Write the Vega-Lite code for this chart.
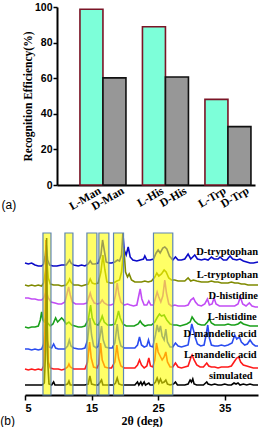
{
"$schema": "https://vega.github.io/schema/vega-lite/v6.json",
"padding": {"left": 0, "top": 2, "right": 0, "bottom": 0},
"spacing": 16,
"config": {"view": {"stroke": null}, "axis": {"domainColor": "#000", "tickColor": "#000", "labelColor": "#000", "titleColor": "#000", "grid": false}},
"datasets": {
"bars": [
{"group": "Man", "kind": "L", "name": "L-Man", "value": 98.7},
{"group": "Man", "kind": "D", "name": "D-Man", "value": 60.2},
{"group": "His", "kind": "L", "name": "L-His", "value": 88.9},
{"group": "His", "kind": "D", "name": "D-His", "value": 60.7},
{"group": "Trp", "kind": "L", "name": "L-Trp", "value": 48.1},
{"group": "Trp", "kind": "D", "name": "D-Trp", "value": 32.8}
],
"boxes": [
{"a": 7.7, "b": 8.9}, {"a": 11.0, "b": 12.2}, {"a": 14.3, "b": 15.8}, {"a": 16.1, "b": 17.6}, {"a": 18.3, "b": 19.8}, {"a": 24.3, "b": 27.2}
],
"names": [
{"name": "D-tryptophan", "lx": 40, "ly": 138},
{"name": "L-tryptophan", "lx": 40, "ly": 115},
{"name": "D-histidine", "lx": 40, "ly": 94},
{"name": "L-histidine", "lx": 39.8, "ly": 73},
{"name": "D-mandelic acid", "lx": 39.8, "ly": 56},
{"name": "L-mandelic acid", "lx": 39.8, "ly": 35},
{"name": "simulated", "lx": 39.2, "ly": 14}
],
"xrd": [
{"s":"Dt","x":5,"y":127},{"s":"Dt","x":5.5,"y":126},{"s":"Dt","x":6,"y":127},{"s":"Dt","x":6.5,"y":125},{"s":"Dt","x":7,"y":124},{"s":"Dt","x":7.5,"y":124},{"s":"Dt","x":7.8,"y":126},{"s":"Dt","x":8.0,"y":133},{"s":"Dt","x":8.2,"y":145},{"s":"Dt","x":8.4,"y":130},{"s":"Dt","x":8.7,"y":125},{"s":"Dt","x":9.2,"y":124},{"s":"Dt","x":9.8,"y":124},{"s":"Dt","x":10.5,"y":125},{"s":"Dt","x":11.2,"y":125},{"s":"Dt","x":11.5,"y":128},{"s":"Dt","x":11.7,"y":130},{"s":"Dt","x":11.9,"y":127},{"s":"Dt","x":12.3,"y":125},{"s":"Dt","x":13,"y":124},{"s":"Dt","x":13.5,"y":125},{"s":"Dt","x":14,"y":124},{"s":"Dt","x":14.5,"y":126},{"s":"Dt","x":14.8,"y":129},{"s":"Dt","x":15.1,"y":126},{"s":"Dt","x":15.5,"y":126},{"s":"Dt","x":16,"y":127},{"s":"Dt","x":16.4,"y":135},{"s":"Dt","x":16.65,"y":150},{"s":"Dt","x":16.9,"y":140},{"s":"Dt","x":17.2,"y":128},{"s":"Dt","x":17.6,"y":127},{"s":"Dt","x":18,"y":127},{"s":"Dt","x":18.5,"y":128},{"s":"Dt","x":18.9,"y":130},{"s":"Dt","x":19.2,"y":129},{"s":"Dt","x":19.5,"y":135},{"s":"Dt","x":19.7,"y":157},{"s":"Dt","x":19.9,"y":140},{"s":"Dt","x":20.2,"y":135},{"s":"Dt","x":20.5,"y":143},{"s":"Dt","x":20.8,"y":133},{"s":"Dt","x":21.2,"y":130},{"s":"Dt","x":21.8,"y":129},{"s":"Dt","x":22.3,"y":130},{"s":"Dt","x":22.8,"y":131},{"s":"Dt","x":23.0,"y":134},{"s":"Dt","x":23.3,"y":130},{"s":"Dt","x":23.8,"y":130},{"s":"Dt","x":24.3,"y":131},{"s":"Dt","x":24.7,"y":137},{"s":"Dt","x":25.0,"y":140},{"s":"Dt","x":25.3,"y":137},{"s":"Dt","x":25.7,"y":142},{"s":"Dt","x":26.0,"y":143},{"s":"Dt","x":26.3,"y":141},{"s":"Dt","x":26.7,"y":134},{"s":"Dt","x":27.2,"y":130},{"s":"Dt","x":27.6,"y":133},{"s":"Dt","x":28,"y":130},{"s":"Dt","x":28.5,"y":130},{"s":"Dt","x":29,"y":131},{"s":"Dt","x":29.5,"y":136},{"s":"Dt","x":29.9,"y":131},{"s":"Dt","x":30.2,"y":133},{"s":"Dt","x":30.5,"y":135},{"s":"Dt","x":30.9,"y":131},{"s":"Dt","x":31.5,"y":130},{"s":"Dt","x":32,"y":131},{"s":"Dt","x":32.5,"y":130},{"s":"Dt","x":33,"y":133},{"s":"Dt","x":33.4,"y":131},{"s":"Dt","x":34,"y":131},{"s":"Dt","x":34.3,"y":133},{"s":"Dt","x":34.8,"y":130},{"s":"Dt","x":35.3,"y":130},{"s":"Dt","x":35.8,"y":134},{"s":"Dt","x":36.2,"y":131},{"s":"Dt","x":36.8,"y":130},{"s":"Dt","x":37.3,"y":131},{"s":"Dt","x":37.8,"y":129},{"s":"Dt","x":38.3,"y":128},{"s":"Dt","x":38.8,"y":127},{"s":"Dt","x":39.3,"y":127},{"s":"Dt","x":40,"y":128},
{"s":"Lt","x":5,"y":105},{"s":"Lt","x":5.5,"y":104},{"s":"Lt","x":6,"y":105},{"s":"Lt","x":6.5,"y":104},{"s":"Lt","x":7,"y":105},{"s":"Lt","x":7.5,"y":104},{"s":"Lt","x":7.8,"y":107},{"s":"Lt","x":8.1,"y":120},{"s":"Lt","x":8.3,"y":128},{"s":"Lt","x":8.5,"y":112},{"s":"Lt","x":8.8,"y":106},{"s":"Lt","x":9.3,"y":105},{"s":"Lt","x":10,"y":105},{"s":"Lt","x":10.5,"y":104},{"s":"Lt","x":11.2,"y":105},{"s":"Lt","x":11.5,"y":108},{"s":"Lt","x":11.7,"y":111},{"s":"Lt","x":11.9,"y":108},{"s":"Lt","x":12.3,"y":105},{"s":"Lt","x":13,"y":105},{"s":"Lt","x":13.5,"y":104},{"s":"Lt","x":14,"y":105},{"s":"Lt","x":14.5,"y":106},{"s":"Lt","x":14.8,"y":111},{"s":"Lt","x":15.1,"y":107},{"s":"Lt","x":15.5,"y":106},{"s":"Lt","x":16,"y":107},{"s":"Lt","x":16.4,"y":118},{"s":"Lt","x":16.7,"y":135},{"s":"Lt","x":17,"y":120},{"s":"Lt","x":17.3,"y":108},{"s":"Lt","x":17.8,"y":107},{"s":"Lt","x":18.3,"y":107},{"s":"Lt","x":18.8,"y":109},{"s":"Lt","x":19.2,"y":110},{"s":"Lt","x":19.5,"y":118},{"s":"Lt","x":19.85,"y":142},{"s":"Lt","x":20.1,"y":118},{"s":"Lt","x":20.4,"y":113},{"s":"Lt","x":20.65,"y":116},{"s":"Lt","x":21,"y":110},{"s":"Lt","x":21.5,"y":108},{"s":"Lt","x":22,"y":108},{"s":"Lt","x":22.5,"y":108},{"s":"Lt","x":23,"y":109},{"s":"Lt","x":23.5,"y":108},{"s":"Lt","x":24,"y":109},{"s":"Lt","x":24.5,"y":113},{"s":"Lt","x":24.8,"y":117},{"s":"Lt","x":25.1,"y":114},{"s":"Lt","x":25.5,"y":116},{"s":"Lt","x":25.9,"y":120},{"s":"Lt","x":26.2,"y":118},{"s":"Lt","x":26.6,"y":112},{"s":"Lt","x":27,"y":110},{"s":"Lt","x":27.5,"y":110},{"s":"Lt","x":28,"y":109},{"s":"Lt","x":28.5,"y":109},{"s":"Lt","x":29,"y":109},{"s":"Lt","x":29.5,"y":112},{"s":"Lt","x":29.9,"y":109},{"s":"Lt","x":30.3,"y":110},{"s":"Lt","x":30.8,"y":109},{"s":"Lt","x":31.5,"y":108},{"s":"Lt","x":32,"y":108},{"s":"Lt","x":32.5,"y":108},{"s":"Lt","x":33,"y":109},{"s":"Lt","x":33.5,"y":108},{"s":"Lt","x":34,"y":108},{"s":"Lt","x":34.5,"y":107},{"s":"Lt","x":35,"y":107},{"s":"Lt","x":35.5,"y":107},{"s":"Lt","x":36,"y":108},{"s":"Lt","x":36.5,"y":107},{"s":"Lt","x":37,"y":107},{"s":"Lt","x":37.5,"y":106},{"s":"Lt","x":38,"y":106},{"s":"Lt","x":38.5,"y":105},{"s":"Lt","x":39,"y":105},{"s":"Lt","x":39.5,"y":105},{"s":"Lt","x":40,"y":105},
{"s":"Dh","x":5,"y":92},{"s":"Dh","x":5.5,"y":92},{"s":"Dh","x":6,"y":91},{"s":"Dh","x":6.5,"y":91},{"s":"Dh","x":7,"y":90},{"s":"Dh","x":7.5,"y":90},{"s":"Dh","x":7.8,"y":92},{"s":"Dh","x":8.2,"y":99},{"s":"Dh","x":8.5,"y":92},{"s":"Dh","x":8.9,"y":88},{"s":"Dh","x":9.5,"y":87},{"s":"Dh","x":10,"y":86},{"s":"Dh","x":10.5,"y":86},{"s":"Dh","x":11,"y":88},{"s":"Dh","x":11.3,"y":96},{"s":"Dh","x":11.55,"y":103},{"s":"Dh","x":11.8,"y":95},{"s":"Dh","x":12.1,"y":88},{"s":"Dh","x":12.6,"y":86},{"s":"Dh","x":13.2,"y":86},{"s":"Dh","x":13.8,"y":86},{"s":"Dh","x":14.3,"y":87},{"s":"Dh","x":14.6,"y":93},{"s":"Dh","x":14.8,"y":97},{"s":"Dh","x":15.0,"y":92},{"s":"Dh","x":15.4,"y":87},{"s":"Dh","x":15.9,"y":86},{"s":"Dh","x":16.3,"y":87},{"s":"Dh","x":16.6,"y":90},{"s":"Dh","x":16.9,"y":87},{"s":"Dh","x":17.4,"y":85},{"s":"Dh","x":17.9,"y":85},{"s":"Dh","x":18.3,"y":86},{"s":"Dh","x":18.6,"y":95},{"s":"Dh","x":18.85,"y":107},{"s":"Dh","x":19.1,"y":96},{"s":"Dh","x":19.4,"y":88},{"s":"Dh","x":19.9,"y":85},{"s":"Dh","x":20.4,"y":86},{"s":"Dh","x":20.8,"y":85},{"s":"Dh","x":21.3,"y":84},{"s":"Dh","x":21.8,"y":85},{"s":"Dh","x":22.05,"y":93},{"s":"Dh","x":22.3,"y":101},{"s":"Dh","x":22.55,"y":91},{"s":"Dh","x":22.9,"y":85},{"s":"Dh","x":23.3,"y":85},{"s":"Dh","x":23.6,"y":89},{"s":"Dh","x":23.9,"y":85},{"s":"Dh","x":24.3,"y":85},{"s":"Dh","x":24.6,"y":92},{"s":"Dh","x":24.85,"y":98},{"s":"Dh","x":25.1,"y":93},{"s":"Dh","x":25.4,"y":88},{"s":"Dh","x":25.7,"y":94},{"s":"Dh","x":26.0,"y":110},{"s":"Dh","x":26.25,"y":97},{"s":"Dh","x":26.6,"y":86},{"s":"Dh","x":27.0,"y":84},{"s":"Dh","x":27.5,"y":85},{"s":"Dh","x":28,"y":84},{"s":"Dh","x":28.5,"y":84},{"s":"Dh","x":29,"y":84},{"s":"Dh","x":29.5,"y":85},{"s":"Dh","x":29.9,"y":90},{"s":"Dh","x":30.3,"y":92},{"s":"Dh","x":30.6,"y":88},{"s":"Dh","x":31,"y":85},{"s":"Dh","x":31.5,"y":84},{"s":"Dh","x":32,"y":86},{"s":"Dh","x":32.4,"y":91},{"s":"Dh","x":32.7,"y":85},{"s":"Dh","x":33.1,"y":86},{"s":"Dh","x":33.4,"y":92},{"s":"Dh","x":33.7,"y":86},{"s":"Dh","x":34.2,"y":84},{"s":"Dh","x":34.8,"y":84},{"s":"Dh","x":35.4,"y":84},{"s":"Dh","x":36,"y":84},{"s":"Dh","x":36.5,"y":84},{"s":"Dh","x":37,"y":86},{"s":"Dh","x":37.35,"y":93},{"s":"Dh","x":37.7,"y":86},{"s":"Dh","x":38.2,"y":84},{"s":"Dh","x":38.7,"y":87},{"s":"Dh","x":39.1,"y":84},{"s":"Dh","x":39.6,"y":83},{"s":"Dh","x":40,"y":83},
{"s":"Lh","x":5,"y":63},{"s":"Lh","x":5.5,"y":62},{"s":"Lh","x":6,"y":63},{"s":"Lh","x":6.5,"y":63},{"s":"Lh","x":7,"y":64},{"s":"Lh","x":7.3,"y":70},{"s":"Lh","x":7.5,"y":78},{"s":"Lh","x":7.7,"y":70},{"s":"Lh","x":7.9,"y":68},{"s":"Lh","x":8.1,"y":72},{"s":"Lh","x":8.4,"y":67},{"s":"Lh","x":8.8,"y":64},{"s":"Lh","x":9.2,"y":66},{"s":"Lh","x":9.6,"y":72},{"s":"Lh","x":9.9,"y":68},{"s":"Lh","x":10.2,"y":70},{"s":"Lh","x":10.5,"y":72},{"s":"Lh","x":10.8,"y":70},{"s":"Lh","x":11.2,"y":66},{"s":"Lh","x":11.6,"y":68},{"s":"Lh","x":12,"y":65},{"s":"Lh","x":12.5,"y":64},{"s":"Lh","x":13,"y":63},{"s":"Lh","x":13.5,"y":63},{"s":"Lh","x":14,"y":64},{"s":"Lh","x":14.5,"y":70},{"s":"Lh","x":14.85,"y":85},{"s":"Lh","x":15.1,"y":72},{"s":"Lh","x":15.5,"y":66},{"s":"Lh","x":16,"y":65},{"s":"Lh","x":16.4,"y":70},{"s":"Lh","x":16.6,"y":74},{"s":"Lh","x":16.9,"y":68},{"s":"Lh","x":17.4,"y":65},{"s":"Lh","x":18,"y":65},{"s":"Lh","x":18.5,"y":66},{"s":"Lh","x":18.8,"y":72},{"s":"Lh","x":19.05,"y":79},{"s":"Lh","x":19.3,"y":72},{"s":"Lh","x":19.7,"y":66},{"s":"Lh","x":20.2,"y":64},{"s":"Lh","x":20.8,"y":64},{"s":"Lh","x":21.4,"y":64},{"s":"Lh","x":22,"y":66},{"s":"Lh","x":22.3,"y":69},{"s":"Lh","x":22.6,"y":66},{"s":"Lh","x":23,"y":64},{"s":"Lh","x":23.5,"y":65},{"s":"Lh","x":24,"y":65},{"s":"Lh","x":24.5,"y":68},{"s":"Lh","x":24.9,"y":73},{"s":"Lh","x":25.2,"y":76},{"s":"Lh","x":25.5,"y":74},{"s":"Lh","x":25.9,"y":75},{"s":"Lh","x":26.3,"y":70},{"s":"Lh","x":26.8,"y":66},{"s":"Lh","x":27.3,"y":65},{"s":"Lh","x":27.8,"y":65},{"s":"Lh","x":28.3,"y":64},{"s":"Lh","x":28.8,"y":65},{"s":"Lh","x":29.3,"y":66},{"s":"Lh","x":29.8,"y":68},{"s":"Lh","x":30.1,"y":73},{"s":"Lh","x":30.5,"y":69},{"s":"Lh","x":31,"y":66},{"s":"Lh","x":31.5,"y":65},{"s":"Lh","x":32,"y":65},{"s":"Lh","x":32.4,"y":68},{"s":"Lh","x":32.7,"y":71},{"s":"Lh","x":33,"y":67},{"s":"Lh","x":33.5,"y":65},{"s":"Lh","x":34,"y":65},{"s":"Lh","x":34.5,"y":65},{"s":"Lh","x":35,"y":65},{"s":"Lh","x":35.5,"y":66},{"s":"Lh","x":36,"y":65},{"s":"Lh","x":36.5,"y":65},{"s":"Lh","x":37,"y":66},{"s":"Lh","x":37.4,"y":68},{"s":"Lh","x":37.8,"y":66},{"s":"Lh","x":38.3,"y":65},{"s":"Lh","x":38.8,"y":64},{"s":"Lh","x":39.4,"y":64},{"s":"Lh","x":40,"y":64},
{"s":"Dm","x":5,"y":41},{"s":"Dm","x":5.5,"y":41},{"s":"Dm","x":6,"y":40},{"s":"Dm","x":6.5,"y":41},{"s":"Dm","x":7,"y":40},{"s":"Dm","x":7.5,"y":41},{"s":"Dm","x":7.8,"y":46},{"s":"Dm","x":8.05,"y":66},{"s":"Dm","x":8.3,"y":50},{"s":"Dm","x":8.6,"y":43},{"s":"Dm","x":9.0,"y":42},{"s":"Dm","x":9.3,"y":46},{"s":"Dm","x":9.6,"y":42},{"s":"Dm","x":10,"y":41},{"s":"Dm","x":10.5,"y":41},{"s":"Dm","x":11,"y":41},{"s":"Dm","x":11.4,"y":44},{"s":"Dm","x":11.65,"y":50},{"s":"Dm","x":11.9,"y":44},{"s":"Dm","x":12.3,"y":42},{"s":"Dm","x":13,"y":41},{"s":"Dm","x":13.5,"y":41},{"s":"Dm","x":14,"y":42},{"s":"Dm","x":14.4,"y":50},{"s":"Dm","x":14.75,"y":72},{"s":"Dm","x":15.0,"y":55},{"s":"Dm","x":15.3,"y":44},{"s":"Dm","x":15.7,"y":42},{"s":"Dm","x":16,"y":44},{"s":"Dm","x":16.3,"y":55},{"s":"Dm","x":16.5,"y":64},{"s":"Dm","x":16.75,"y":50},{"s":"Dm","x":17.1,"y":43},{"s":"Dm","x":17.6,"y":42},{"s":"Dm","x":18.1,"y":42},{"s":"Dm","x":18.5,"y":47},{"s":"Dm","x":18.85,"y":66},{"s":"Dm","x":19.1,"y":52},{"s":"Dm","x":19.4,"y":44},{"s":"Dm","x":19.9,"y":42},{"s":"Dm","x":20.5,"y":42},{"s":"Dm","x":21,"y":42},{"s":"Dm","x":21.5,"y":42},{"s":"Dm","x":21.9,"y":45},{"s":"Dm","x":22.2,"y":53},{"s":"Dm","x":22.5,"y":45},{"s":"Dm","x":22.9,"y":43},{"s":"Dm","x":23.3,"y":44},{"s":"Dm","x":23.55,"y":50},{"s":"Dm","x":23.8,"y":44},{"s":"Dm","x":24.2,"y":43},{"s":"Dm","x":24.6,"y":55},{"s":"Dm","x":24.85,"y":65},{"s":"Dm","x":25.1,"y":58},{"s":"Dm","x":25.35,"y":64},{"s":"Dm","x":25.6,"y":54},{"s":"Dm","x":25.9,"y":50},{"s":"Dm","x":26.15,"y":61},{"s":"Dm","x":26.4,"y":48},{"s":"Dm","x":26.8,"y":43},{"s":"Dm","x":27.2,"y":43},{"s":"Dm","x":27.6,"y":47},{"s":"Dm","x":28,"y":44},{"s":"Dm","x":28.5,"y":43},{"s":"Dm","x":29,"y":44},{"s":"Dm","x":29.5,"y":45},{"s":"Dm","x":29.85,"y":58},{"s":"Dm","x":30.05,"y":66},{"s":"Dm","x":30.3,"y":60},{"s":"Dm","x":30.6,"y":52},{"s":"Dm","x":30.9,"y":46},{"s":"Dm","x":31.4,"y":44},{"s":"Dm","x":31.9,"y":45},{"s":"Dm","x":32.2,"y":55},{"s":"Dm","x":32.45,"y":65},{"s":"Dm","x":32.7,"y":52},{"s":"Dm","x":33,"y":45},{"s":"Dm","x":33.5,"y":44},{"s":"Dm","x":34,"y":44},{"s":"Dm","x":34.5,"y":45},{"s":"Dm","x":35,"y":44},{"s":"Dm","x":35.5,"y":45},{"s":"Dm","x":36.1,"y":47},{"s":"Dm","x":36.5,"y":55},{"s":"Dm","x":36.8,"y":51},{"s":"Dm","x":37.2,"y":53},{"s":"Dm","x":37.5,"y":48},{"s":"Dm","x":38,"y":45},{"s":"Dm","x":38.4,"y":46},{"s":"Dm","x":38.8,"y":50},{"s":"Dm","x":39.2,"y":46},{"s":"Dm","x":39.6,"y":44},{"s":"Dm","x":40,"y":44},
{"s":"Lm","x":5,"y":21},{"s":"Lm","x":5.5,"y":20},{"s":"Lm","x":6,"y":21},{"s":"Lm","x":6.5,"y":20},{"s":"Lm","x":7,"y":21},{"s":"Lm","x":7.5,"y":20},{"s":"Lm","x":7.8,"y":24},{"s":"Lm","x":8.0,"y":60},{"s":"Lm","x":8.15,"y":150},{"s":"Lm","x":8.3,"y":70},{"s":"Lm","x":8.5,"y":28},{"s":"Lm","x":8.8,"y":22},{"s":"Lm","x":9.3,"y":21},{"s":"Lm","x":10,"y":21},{"s":"Lm","x":10.5,"y":20},{"s":"Lm","x":11,"y":21},{"s":"Lm","x":11.4,"y":23},{"s":"Lm","x":11.6,"y":26},{"s":"Lm","x":11.8,"y":23},{"s":"Lm","x":12.3,"y":21},{"s":"Lm","x":13,"y":21},{"s":"Lm","x":13.5,"y":21},{"s":"Lm","x":14,"y":21},{"s":"Lm","x":14.4,"y":28},{"s":"Lm","x":14.7,"y":48},{"s":"Lm","x":14.95,"y":32},{"s":"Lm","x":15.3,"y":23},{"s":"Lm","x":15.8,"y":22},{"s":"Lm","x":16.1,"y":26},{"s":"Lm","x":16.35,"y":47},{"s":"Lm","x":16.6,"y":30},{"s":"Lm","x":17,"y":23},{"s":"Lm","x":17.5,"y":22},{"s":"Lm","x":18,"y":22},{"s":"Lm","x":18.5,"y":28},{"s":"Lm","x":18.8,"y":45},{"s":"Lm","x":19.05,"y":32},{"s":"Lm","x":19.4,"y":24},{"s":"Lm","x":19.9,"y":22},{"s":"Lm","x":20.5,"y":22},{"s":"Lm","x":21,"y":22},{"s":"Lm","x":21.5,"y":22},{"s":"Lm","x":21.9,"y":25},{"s":"Lm","x":22.2,"y":30},{"s":"Lm","x":22.5,"y":25},{"s":"Lm","x":22.9,"y":22},{"s":"Lm","x":23.3,"y":24},{"s":"Lm","x":23.6,"y":32},{"s":"Lm","x":23.85,"y":24},{"s":"Lm","x":24.2,"y":23},{"s":"Lm","x":24.5,"y":30},{"s":"Lm","x":24.75,"y":47},{"s":"Lm","x":25.0,"y":38},{"s":"Lm","x":25.3,"y":34},{"s":"Lm","x":25.6,"y":30},{"s":"Lm","x":25.9,"y":33},{"s":"Lm","x":26.15,"y":38},{"s":"Lm","x":26.4,"y":28},{"s":"Lm","x":26.8,"y":23},{"s":"Lm","x":27.2,"y":23},{"s":"Lm","x":27.6,"y":27},{"s":"Lm","x":28,"y":23},{"s":"Lm","x":28.5,"y":22},{"s":"Lm","x":29,"y":23},{"s":"Lm","x":29.5,"y":24},{"s":"Lm","x":29.9,"y":32},{"s":"Lm","x":30.1,"y":35},{"s":"Lm","x":30.4,"y":30},{"s":"Lm","x":30.8,"y":25},{"s":"Lm","x":31.3,"y":23},{"s":"Lm","x":31.8,"y":23},{"s":"Lm","x":32.3,"y":27},{"s":"Lm","x":32.6,"y":24},{"s":"Lm","x":33,"y":23},{"s":"Lm","x":33.5,"y":23},{"s":"Lm","x":34,"y":22},{"s":"Lm","x":34.5,"y":23},{"s":"Lm","x":35,"y":23},{"s":"Lm","x":35.5,"y":23},{"s":"Lm","x":36,"y":24},{"s":"Lm","x":36.5,"y":29},{"s":"Lm","x":36.8,"y":32},{"s":"Lm","x":37.1,"y":33},{"s":"Lm","x":37.4,"y":28},{"s":"Lm","x":37.8,"y":25},{"s":"Lm","x":38.3,"y":24},{"s":"Lm","x":38.8,"y":23},{"s":"Lm","x":39.3,"y":22},{"s":"Lm","x":40,"y":22},
{"s":"sim","x":5,"y":5},{"s":"sim","x":6,"y":5},{"s":"sim","x":7,"y":5},{"s":"sim","x":7.6,"y":5},{"s":"sim","x":7.9,"y":7},{"s":"sim","x":8.1,"y":40},{"s":"sim","x":8.25,"y":152},{"s":"sim","x":8.4,"y":30},{"s":"sim","x":8.6,"y":6},{"s":"sim","x":9.0,"y":5},{"s":"sim","x":9.3,"y":8},{"s":"sim","x":9.5,"y":5},{"s":"sim","x":10,"y":5},{"s":"sim","x":10.5,"y":5},{"s":"sim","x":11,"y":5},{"s":"sim","x":11.4,"y":6},{"s":"sim","x":11.6,"y":9},{"s":"sim","x":11.8,"y":5},{"s":"sim","x":12.5,"y":5},{"s":"sim","x":13,"y":5},{"s":"sim","x":13.5,"y":5},{"s":"sim","x":14,"y":5},{"s":"sim","x":14.5,"y":6},{"s":"sim","x":14.75,"y":14},{"s":"sim","x":15,"y":6},{"s":"sim","x":15.5,"y":5},{"s":"sim","x":16,"y":5},{"s":"sim","x":16.3,"y":8},{"s":"sim","x":16.5,"y":10},{"s":"sim","x":16.7,"y":5},{"s":"sim","x":17.2,"y":5},{"s":"sim","x":17.8,"y":5},{"s":"sim","x":18.3,"y":5},{"s":"sim","x":18.6,"y":7},{"s":"sim","x":18.85,"y":12},{"s":"sim","x":19.1,"y":6},{"s":"sim","x":19.5,"y":5},{"s":"sim","x":20,"y":5},{"s":"sim","x":20.5,"y":5},{"s":"sim","x":21,"y":5},{"s":"sim","x":21.5,"y":5},{"s":"sim","x":21.9,"y":8},{"s":"sim","x":22.1,"y":5},{"s":"sim","x":22.4,"y":8},{"s":"sim","x":22.6,"y":5},{"s":"sim","x":22.9,"y":8},{"s":"sim","x":23.1,"y":5},{"s":"sim","x":23.6,"y":7},{"s":"sim","x":23.8,"y":5},{"s":"sim","x":24.2,"y":5},{"s":"sim","x":24.6,"y":8},{"s":"sim","x":24.85,"y":12},{"s":"sim","x":25.1,"y":7},{"s":"sim","x":25.35,"y":11},{"s":"sim","x":25.6,"y":7},{"s":"sim","x":25.9,"y":8},{"s":"sim","x":26.15,"y":10},{"s":"sim","x":26.4,"y":6},{"s":"sim","x":26.8,"y":5},{"s":"sim","x":27.3,"y":6},{"s":"sim","x":27.6,"y":8},{"s":"sim","x":27.9,"y":5},{"s":"sim","x":28.5,"y":5},{"s":"sim","x":29,"y":5},{"s":"sim","x":29.5,"y":6},{"s":"sim","x":29.8,"y":10},{"s":"sim","x":30,"y":8},{"s":"sim","x":30.2,"y":11},{"s":"sim","x":30.4,"y":6},{"s":"sim","x":30.8,"y":5},{"s":"sim","x":31.3,"y":5},{"s":"sim","x":31.8,"y":5},{"s":"sim","x":32.3,"y":8},{"s":"sim","x":32.5,"y":6},{"s":"sim","x":33,"y":5},{"s":"sim","x":33.5,"y":6},{"s":"sim","x":34,"y":5},{"s":"sim","x":34.5,"y":5},{"s":"sim","x":35,"y":6},{"s":"sim","x":35.5,"y":5},{"s":"sim","x":36,"y":5},{"s":"sim","x":36.4,"y":7},{"s":"sim","x":36.7,"y":6},{"s":"sim","x":37,"y":7},{"s":"sim","x":37.3,"y":5},{"s":"sim","x":37.8,"y":6},{"s":"sim","x":38.3,"y":5},{"s":"sim","x":38.8,"y":6},{"s":"sim","x":39.3,"y":5},{"s":"sim","x":40,"y":5}
]
},
"vconcat": [
{
"width": 230, "height": 178,
"title": {"text": "(a)", "orient": "bottom", "anchor": "start", "frame": "bounds", "font": "Liberation Sans", "fontSize": 12, "fontWeight": "normal", "color": "#000", "dx": -21, "offset": -13},
"data": {"name": "bars"},
"encoding": {
"x": {"field": "group", "type": "nominal", "sort": ["Man", "His", "Trp"], "scale": {"range": [32, 230], "paddingInner": 0.264, "paddingOuter": 0.216, "align": 0.85}, "axis": {"labels": false, "ticks": false, "title": null, "domainWidth": 2}},
"xOffset": {"field": "kind", "type": "nominal", "sort": ["L", "D"], "scale": {"paddingInner": 0, "paddingOuter": 0}}
},
"layer": [
{
"mark": {"type": "bar", "strokeWidth": 1.6},
"encoding": {
"y": {"field": "value", "type": "quantitative", "scale": {"domain": [0, 100]}, "axis": {"offset": -32, "values": [0, 20, 40, 60, 80, 100], "title": "Recognition Efficiency(%)", "titleFont": "Liberation Serif", "titleFontSize": 11.5, "titleFontWeight": "bold", "titlePadding": 1, "labelFont": "Liberation Sans", "labelFontSize": 10.5, "labelFontWeight": "bold", "labelPadding": 1, "tickSize": 4, "tickWidth": 1.5, "domainWidth": 2}},
"fill": {"field": "kind", "type": "nominal", "scale": {"domain": ["L", "D"], "range": ["#7dffd9", "#979797"]}, "legend": null},
"stroke": {"field": "kind", "type": "nominal", "scale": {"domain": ["L", "D"], "range": ["#7b1526", "#111111"]}, "legend": null}
}
},
{
"mark": {"type": "text", "angle": 330, "align": "right", "baseline": "top", "font": "Liberation Serif", "fontWeight": "bold", "fontSize": 11.5, "color": "#000", "dx": 5, "dy": 3},
"encoding": {
"y": {"datum": 0, "type": "quantitative", "scale": {"domain": [0, 100]}, "axis": {"offset": -32, "values": [0, 20, 40, 60, 80, 100], "title": "Recognition Efficiency(%)", "titleFont": "Liberation Serif", "titleFontSize": 11.5, "titleFontWeight": "bold", "titlePadding": 1, "labelFont": "Liberation Sans", "labelFontSize": 10.5, "labelFontWeight": "bold", "labelPadding": 1, "tickSize": 4, "tickWidth": 1.5, "domainWidth": 2}},
"text": {"field": "name"}
}
}
]
},
{
"width": 233, "height": 162,
"title": {"text": "(b)", "orient": "bottom", "anchor": "start", "frame": "bounds", "font": "Liberation Sans", "fontSize": 12, "fontWeight": "normal", "color": "#000", "dx": -21.5, "offset": -10},
"layer": [
{
"data": {"name": "xrd"},
"mark": {"type": "line", "strokeWidth": 1.6},
"encoding": {
"x": {"field": "x", "type": "quantitative", "scale": {"domain": [5, 40], "nice": false}, "axis": {"values": [5, 10, 15, 20, 25, 30, 35, 40], "tickSize": 5, "title": "2θ (deg)", "titleFont": "Liberation Serif", "titleFontSize": 12, "titleFontWeight": "bold", "titlePadding": 2, "labelFont": "Liberation Sans", "labelFontSize": 11, "labelFontWeight": "bold", "labelPadding": 2, "tickWidth": 1.5, "domainWidth": 2}},
"y": {"field": "y", "type": "quantitative", "scale": {"domain": [-5, 157], "nice": false}, "axis": null},
"color": {"field": "s", "type": "nominal", "scale": {"domain": ["sim", "Lm", "Dm", "Lh", "Dh", "Lt", "Dt"], "range": ["#000000", "#ff1a1a", "#2a4cf0", "#1aa01a", "#c24cf5", "#7f8a00", "#0a0ac8"]}, "legend": null}
}
},
{
"data": {"name": "boxes"},
"mark": {"type": "rect", "fill": "#ffff00", "fillOpacity": 0.6, "stroke": "#5f86b3", "strokeWidth": 1.2},
"encoding": {
"x": {"field": "a", "type": "quantitative"},
"x2": {"field": "b"},
"y": {"datum": 157, "type": "quantitative"},
"y2": {"datum": -5}
}
},
{
"data": {"name": "names"},
"mark": {"type": "text", "align": "right", "baseline": "middle", "font": "Liberation Serif", "fontWeight": "bold", "fontSize": 10.5, "color": "#000"},
"encoding": {
"x": {"field": "lx", "type": "quantitative"},
"y": {"field": "ly", "type": "quantitative"},
"text": {"field": "name"}
}
}
]
}
]
}
